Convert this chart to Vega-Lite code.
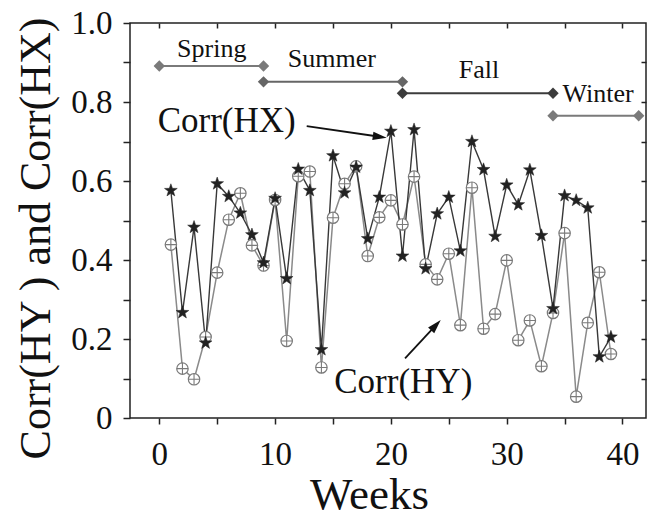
{
  "$schema": "https://vega.github.io/schema/vega-lite/v6.json",
  "width": 516,
  "height": 395,
  "autosize": {"type": "none"},
  "padding": {"left": 130, "top": 23, "right": 1, "bottom": 103},
  "background": "white",
  "config": {
    "view": {"stroke": "#222", "strokeWidth": 1.5},
    "font": "Liberation Serif",
    "axis": {"grid": false, "domain": false, "labelFont": "Liberation Serif", "titleFont": "Liberation Serif", "labelColor": "#111", "titleColor": "#111", "tickColor": "#222", "tickWidth": 1.5, "titleFontWeight": "normal"}
  },
  "data": {"values": [
    {"week": 1, "hx": 0.576, "hy": 0.439},
    {"week": 2, "hx": 0.267, "hy": 0.125},
    {"week": 3, "hx": 0.483, "hy": 0.098},
    {"week": 4, "hx": 0.19, "hy": 0.205},
    {"week": 5, "hx": 0.593, "hy": 0.368},
    {"week": 6, "hx": 0.561, "hy": 0.502},
    {"week": 7, "hx": 0.519, "hy": 0.569},
    {"week": 8, "hx": 0.464, "hy": 0.437},
    {"week": 9, "hx": 0.393, "hy": 0.386},
    {"week": 10, "hx": 0.556, "hy": 0.552},
    {"week": 11, "hx": 0.353, "hy": 0.195},
    {"week": 12, "hx": 0.63, "hy": 0.612},
    {"week": 13, "hx": 0.576, "hy": 0.624},
    {"week": 14, "hx": 0.173, "hy": 0.128},
    {"week": 15, "hx": 0.664, "hy": 0.507},
    {"week": 16, "hx": 0.57, "hy": 0.593},
    {"week": 17, "hx": 0.635, "hy": 0.637},
    {"week": 18, "hx": 0.454, "hy": 0.41},
    {"week": 19, "hx": 0.559, "hy": 0.508},
    {"week": 20, "hx": 0.726, "hy": 0.551},
    {"week": 21, "hx": 0.41, "hy": 0.49},
    {"week": 22, "hx": 0.73, "hy": 0.611},
    {"week": 23, "hx": 0.378, "hy": 0.389},
    {"week": 24, "hx": 0.517, "hy": 0.351},
    {"week": 25, "hx": 0.559, "hy": 0.416},
    {"week": 26, "hx": 0.423, "hy": 0.235},
    {"week": 27, "hx": 0.7, "hy": 0.583},
    {"week": 28, "hx": 0.629, "hy": 0.226},
    {"week": 29, "hx": 0.46, "hy": 0.263},
    {"week": 30, "hx": 0.59, "hy": 0.399},
    {"week": 31, "hx": 0.54, "hy": 0.197},
    {"week": 32, "hx": 0.628, "hy": 0.247},
    {"week": 33, "hx": 0.462, "hy": 0.131},
    {"week": 34, "hx": 0.277, "hy": 0.266},
    {"week": 35, "hx": 0.563, "hy": 0.468},
    {"week": 36, "hx": 0.551, "hy": 0.054},
    {"week": 37, "hx": 0.532, "hy": 0.241},
    {"week": 38, "hx": 0.155, "hy": 0.369},
    {"week": 39, "hx": 0.205, "hy": 0.162}
  ]},
  "resolve": {"axis": {"x": "independent", "y": "independent"}},
  "layer": [
    {
      "mark": {"type": "line", "stroke": "#8a8a8a", "strokeWidth": 1.5},
      "encoding": {
        "x": {"field": "week", "type": "quantitative", "scale": {"domain": [-2.53, 42.03], "nice": false, "zero": false},
          "axis": {"orient": "bottom", "values": [0, 5, 10, 15, 20, 25, 30, 35, 40], "labelExpr": "datum.value % 10 === 0 ? datum.label : ''", "tickSize": 6, "labelFont": "Liberation Serif", "labelFontSize": 33, "labelBaseline": "alphabetic", "labelPadding": 40, "labelFlush": false, "title": "Weeks", "titleFont": "Liberation Serif", "titleFontSize": 45, "titleBaseline": "alphabetic", "titleX": 239, "titleY": 90}},
        "y": {"field": "hy", "type": "quantitative", "scale": {"domain": [0, 1], "nice": false},
          "axis": {"orient": "left", "values": [0, 0.1, 0.2, 0.3, 0.4, 0.5, 0.6, 0.7, 0.8, 0.9, 1.0], "labelExpr": "datum.value === 0 ? '0' : (round(datum.value * 10) % 2 === 0 ? format(datum.value, '.1f') : '')", "tickSize": 7, "labelFont": "Liberation Serif", "labelFontSize": 33, "labelPadding": 11, "labelFlush": false, "title": "Corr(HY ) and Corr(HX)", "titleFont": "Liberation Serif", "titleFontSize": 44, "titlePadding": 12, "titleY": 215}}
      }
    },
    {
      "mark": {"type": "line", "stroke": "#383838", "strokeWidth": 1.4},
      "encoding": {
        "x": {"field": "week", "type": "quantitative", "axis": {"orient": "top", "values": [0, 5, 10, 15, 20, 25, 30, 35, 40], "labels": false, "tickSize": -5, "title": null}},
        "y": {"field": "hx", "type": "quantitative", "axis": {"orient": "right", "values": [0.1, 0.2, 0.3, 0.4, 0.5, 0.6, 0.7, 0.8, 0.9], "labels": false, "tickSize": -5, "title": null}}
      }
    },
    {
      "mark": {"type": "point", "shape": "circle", "filled": true, "fill": "white", "stroke": "#7a7a7a", "strokeWidth": 1.2, "size": 130, "opacity": 1},
      "encoding": {
        "x": {"field": "week", "type": "quantitative", "axis": null},
        "y": {"field": "hy", "type": "quantitative", "axis": null}
      }
    },
    {
      "mark": {"type": "point", "shape": "M-1,0L1,0M0,-1L0,1", "filled": false, "stroke": "#7a7a7a", "strokeWidth": 1.1, "size": 130, "opacity": 1},
      "encoding": {
        "x": {"field": "week", "type": "quantitative", "axis": null},
        "y": {"field": "hy", "type": "quantitative", "axis": null}
      }
    },
    {
      "mark": {"type": "point", "shape": "M0,-1L0.235,-0.324L0.951,-0.309L0.38,0.124L0.588,0.809L0,0.4L-0.588,0.809L-0.38,0.124L-0.951,-0.309L-0.235,-0.324Z", "filled": true, "fill": "#222", "stroke": "#222", "strokeWidth": 0.5, "size": 180, "opacity": 1},
      "encoding": {
        "x": {"field": "week", "type": "quantitative", "axis": null},
        "y": {"field": "hx", "type": "quantitative", "axis": null}
      }
    },
    {
      "data": {"values": [
        {"season": "Spring", "start": 0, "end": 9, "level": 0.891, "color": "#7a7a7a"},
        {"season": "Summer", "start": 9, "end": 21, "level": 0.851, "color": "#666666"},
        {"season": "Fall", "start": 21, "end": 34, "level": 0.822, "color": "#3c3c3c"},
        {"season": "Winter", "start": 34, "end": 41.4, "level": 0.765, "color": "#7a7a7a"}
      ]},
      "layer": [
        {
          "mark": {"type": "rule", "strokeWidth": 2},
          "encoding": {
            "x": {"field": "start", "type": "quantitative", "axis": null},
            "x2": {"field": "end"},
            "y": {"field": "level", "type": "quantitative", "axis": null},
            "color": {"field": "color", "type": "nominal", "scale": null}
          }
        },
        {
          "transform": [{"fold": ["start", "end"], "as": ["side", "pos"]}],
          "mark": {"type": "point", "shape": "diamond", "filled": true, "size": 130, "opacity": 1},
          "encoding": {
            "x": {"field": "pos", "type": "quantitative", "axis": null},
            "y": {"field": "level", "type": "quantitative", "axis": null},
            "color": {"field": "color", "type": "nominal", "scale": null}
          }
        }
      ]
    },
    {
      "data": {"values": [
        {"label": "Spring", "lx": 4.53, "ly": 0.915, "size": 26},
        {"label": "Summer", "lx": 14.9, "ly": 0.889, "size": 26},
        {"label": "Fall", "lx": 27.6, "ly": 0.86, "size": 26},
        {"label": "Winter", "lx": 37.9, "ly": 0.801, "size": 26},
        {"label": "Corr(HX)", "lx": 5.82, "ly": 0.723, "size": 35},
        {"label": "Corr(HY)", "lx": 21.07, "ly": 0.064, "size": 35}
      ]},
      "mark": {"type": "text", "baseline": "alphabetic", "align": "center", "color": "#111", "font": "Liberation Serif"},
      "encoding": {
        "x": {"field": "lx", "type": "quantitative", "axis": null},
        "y": {"field": "ly", "type": "quantitative", "axis": null},
        "text": {"field": "label"},
        "size": {"field": "size", "type": "quantitative", "scale": null}
      }
    },
    {
      "data": {"values": [
        {"ax": 12.73, "ay": 0.739, "bx": 19.04, "by": 0.712, "angle": 98},
        {"ax": 21.22, "ay": 0.151, "bx": 23.89, "by": 0.235, "angle": 43}
      ]},
      "layer": [
        {
          "mark": {"type": "rule", "stroke": "#111", "strokeWidth": 1.8},
          "encoding": {
            "x": {"field": "ax", "type": "quantitative", "axis": null},
            "y": {"field": "ay", "type": "quantitative", "axis": null},
            "x2": {"field": "bx"},
            "y2": {"field": "by"}
          }
        },
        {
          "mark": {"type": "point", "shape": "M0,-1L0.6,1L-0.6,1Z", "filled": true, "fill": "#111", "size": 196, "opacity": 1},
          "encoding": {
            "x": {"field": "bx", "type": "quantitative", "axis": null},
            "y": {"field": "by", "type": "quantitative", "axis": null},
            "angle": {"field": "angle", "type": "quantitative", "scale": null}
          }
        }
      ]
    }
  ]
}
